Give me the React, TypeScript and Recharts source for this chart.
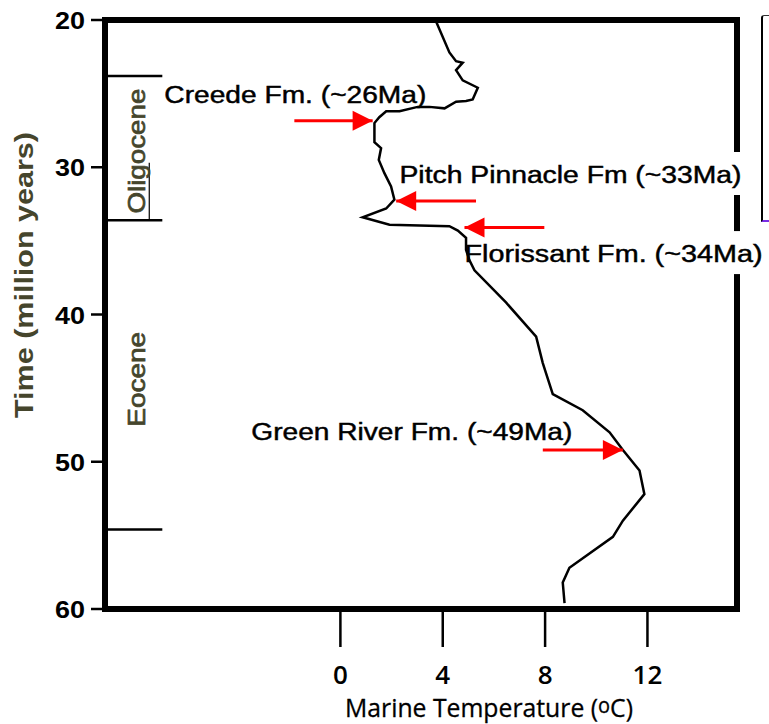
import { ScatterChart, Scatter, XAxis, YAxis, ReferenceArea, ReferenceLine } from 'recharts';

// axis ticks
const AGE_TICKS = [20, 30, 40, 50, 60];
const TEMP_TICKS = [0, 4, 8, 12];

// marine temperature curve (deg C) against age (Ma)
const curveTemp = [
  3.74, 4.26, 4.52, 4.78, 4.52, 4.78, 5.37, 5.17, 4.91, 4.52, 4.07, 3.48, 3.02, 2.31, 1.79, 1.52,
  1.33, 1.33, 1.59, 1.5, 1.72, 1.98, 2.11, 1.79, 0.87, 1.92, 4.26, 4.59, 4.91, 4.91, 5.04, 5.24,
  6.48, 7.65, 7.91, 8.3, 9.47, 10.52, 11.04, 11.69, 11.88, 11.04, 10.65, 8.95, 8.69, 8.76,
];
const curveAge = [
  20.1, 22.2, 22.8, 22.9, 23.4, 24.1, 24.6, 25.4, 25.5, 25.55, 26.0, 25.9, 25.9, 26.2, 26.2, 26.6,
  27.0, 28.3, 28.7, 29.5, 30.4, 31.3, 32.2, 32.8, 33.4, 33.9, 34.0, 34.3, 34.8, 35.6, 36.3, 37.0,
  39.2, 41.5, 43.3, 45.4, 46.5, 48.0, 49.2, 50.6, 52.2, 54.0, 55.1, 57.2, 58.2, 59.6,
];

// formation arrows
const arrowTail = [-1.8, 5.3, 7.97, 7.91];
const arrowTip = [1.26, 2.18, 4.85, 11.04];
const arrowAge = [26.84, 32.3, 34.1, 49.2];

// formation labels (anchor = start of text, baseline)
const labels = ['Creede Fm. (~26Ma)', 'Pitch Pinnacle Fm (~33Ma)', 'Florissant Fm. (~34Ma)', 'Green River Fm. (~49Ma)'];
const labelTemp = [-6.88, 2.31, 4.85, -3.48];
const labelAge = [25.64, 31.07, 36.44, 48.53];
const labelWidths = [262, 342, 298, 321];
const labelBg = [false, true, true, false];

// epochs
const epochNames = ['Oligocene', 'Eocene'];
const epochMidAge = [28.9, 44.4];
const epochTemp = -7.62;
const epochWidths = [125, 95];
const epochBoundaries = [23.8, 33.6, 54.6];

const T_MIN = -9.2;
const T_MAX = 15.5;
const BOUNDARY_END = -6.96;

const curveData = curveTemp.map((t, i) => ({ t, a: curveAge[i] }));
const labelData = labels.map((label, i) => ({
  t: labelTemp[i], a: labelAge[i], label, w: labelWidths[i], bg: labelBg[i],
}));
const epochData = epochNames.map((label, i) => ({ t: epochTemp, a: epochMidAge[i], label, w: epochWidths[i] }));

const RED = '#ff0000';
const OLIVE = '#45452c';

const LabelShape = (p: any) => {
  const d = p.payload;
  return (
    <g>
      {d.bg && <rect x={p.cx - 4} y={p.cy - 31} width={d.w + 8} height={43} fill="#fff" />}
      <text x={p.cx} y={p.cy} fontSize={23} fill="#000" stroke="#000" strokeWidth={0.45}
        textLength={d.w} lengthAdjust="spacingAndGlyphs">
        {d.label}
      </text>
    </g>
  );
};

const EpochShape = (p: any) => {
  const d = p.payload;
  return (
    <text
      x={p.cx}
      y={p.cy}
      transform={`rotate(-90 ${p.cx} ${p.cy})`}
      textAnchor="middle"
      fontSize={24}
      fill={OLIVE}
      stroke={OLIVE}
      strokeWidth={0.7}
      textLength={d.w}
      lengthAdjust="spacingAndGlyphs"
    >
      {d.label}
    </text>
  );
};

const ArrowHead = (p: any) => {
  const d = p.payload;
  if (!d.head) return <g />;
  const dir = d.dir;
  const bx = p.cx - dir * 20;
  return <polygon points={`${p.cx},${p.cy} ${bx},${p.cy - 10} ${bx},${p.cy + 10}`} fill={RED} />;
};

export default function App() {
  return (
    <div style={{ position: 'absolute', left: 0, top: 0, width: 769, height: 724, background: '#fff' }}>
      <ScatterChart
        width={769}
        height={724}
        margin={{ top: 20, right: 32, bottom: 0, left: 0 }}
        style={{ fontFamily: '"Liberation Sans", Arial, sans-serif' }}
      >
        <XAxis
          type="number"
          dataKey="t"
          domain={[T_MIN, T_MAX]}
          ticks={TEMP_TICKS}
          height={115}
          axisLine={false}
          tickSize={38}
          tickMargin={8}
          tickLine={{ stroke: '#000', strokeWidth: 2.5 }}
          tick={(p: any) => (
            <text x={p.x} y={p.y} dy={29} textAnchor="middle" fontSize={26} fontWeight={600}
              fontFamily='"Open Sans", sans-serif' fill="#000">
              {p.payload.value}
            </text>
          )}
          label={{
            content: (lp: any) => {
              const vb = lp.viewBox;
              return (
                <text x={vb.x + 240} y={vb.y + 108} fontSize={26} fontWeight={500} fontFamily='"Open Sans", sans-serif'
                  fill="#000" stroke="#000" strokeWidth={0.3} textLength={288} lengthAdjust="spacingAndGlyphs">
                  Marine Temperature (<tspan fontSize={21} dy={-4}>o</tspan><tspan dy={4}>C)</tspan>
                </text>
              );
            },
          }}
        />
        <YAxis
          type="number"
          dataKey="a"
          domain={[20, 60]}
          reversed
          ticks={AGE_TICKS}
          width={105}
          axisLine={false}
          tickSize={14}
          tickMargin={6}
          tickLine={{ stroke: '#000', strokeWidth: 2.5 }}
          tick={(p: any) => (
            <text x={p.x} y={p.y} dy={9} textAnchor="end" fontSize={23} fontWeight="bold" fill="#000"
              textLength={30} lengthAdjust="spacingAndGlyphs">
              {p.payload.value}
            </text>
          )}
          label={{
            content: () => (
              <text x={33} y={275} transform="rotate(-90 33 275)" textAnchor="middle" fontSize={25}
                fontWeight="bold" fill={OLIVE} textLength={286} lengthAdjust="spacingAndGlyphs">
                Time (million years)
              </text>
            ),
          }}
        />

        <ReferenceArea x1={T_MIN} x2={T_MAX} y1={20} y2={60} fill="none" stroke="#000" strokeWidth={6} ifOverflow="visible" />

        {epochBoundaries.map((age) => (
          <ReferenceLine
            key={age}
            segment={[{ x: T_MIN, y: age }, { x: BOUNDARY_END, y: age }]}
            stroke="#000"
            strokeWidth={2.5}
          />
        ))}
        <ReferenceLine segment={[{ x: -7.47, y: 29.7 }, { x: -7.47, y: 33.6 }]} stroke="#000" strokeWidth={1.2} />

        <Scatter data={epochData} shape={EpochShape} isAnimationActive={false} />
        <Scatter data={labelData} shape={LabelShape} isAnimationActive={false} />

        <Scatter
          data={curveData}
          fill="#000"
          line={{ stroke: '#000', strokeWidth: 2.5 }}
          lineType="joint"
          shape={() => <g />}
          isAnimationActive={false}
        />

        {arrowAge.map((age, i) => {
          const dir = arrowTip[i] > arrowTail[i] ? 1 : -1;
          const data = [
            { t: arrowTail[i], a: age, head: false, dir },
            { t: arrowTip[i], a: age, head: true, dir },
          ];
          return (
            <Scatter
              key={i}
              data={data}
              fill={RED}
              line={{ stroke: RED, strokeWidth: 3 }}
              lineType="joint"
              shape={ArrowHead}
              isAnimationActive={false}
            />
          );
        })}
      </ScatterChart>
      <div
        style={{
          position: 'absolute', left: 761, top: 15, width: 10, height: 204,
          borderLeft: '2px solid #000', borderTop: '1px solid #333', borderBottom: '2px solid #7a2ee6',
          borderTopLeftRadius: 3,
        }}
      />
    </div>
  );
}
